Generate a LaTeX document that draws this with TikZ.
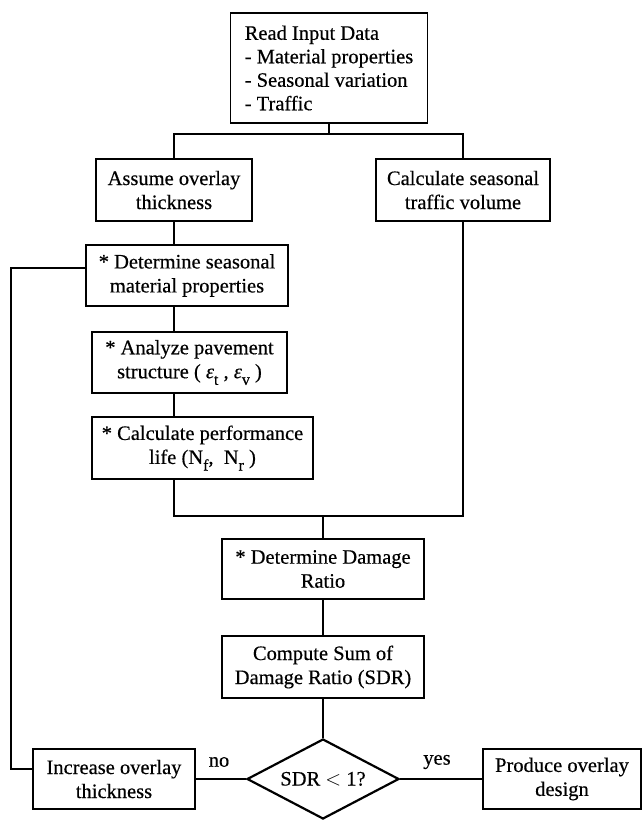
\documentclass[tikz,border=0pt]{standalone}
\usepackage{fontspec}
\setmainfont{Liberation Serif}[FakeBold=0.4]
\usetikzlibrary{shapes.geometric}
\newcommand{\lowsub}[1]{\raisebox{-0.32em}{\fontsize{16}{16}\selectfont #1}}
\begin{document}
\begin{tikzpicture}[x=1pt,y=-1pt,
  box/.style={draw, line width=1.6pt, align=center, inner sep=0pt, font=\fontsize{20.5}{24}\selectfont},
  link/.style={line width=1.6pt},
  lbl/.style={inner sep=0pt, font=\fontsize{20.5}{24}\selectfont}]
\useasboundingbox (0,0) rectangle (642,820);
\fill[white] (0,0) rectangle (642,820);

\node[box, align=left, minimum width=197pt, minimum height=110pt, font=\fontsize{20.5}{23.5}\selectfont] (read) at (329,68)
  {Read Input Data\\- Material properties\\- Seasonal variation\\- Traffic};
\node[box, minimum width=156pt, minimum height=62pt] (assume) at (174,190) {Assume overlay\\thickness};
\node[box, minimum width=174pt, minimum height=62pt] (calc) at (463,190) {Calculate seasonal\\traffic volume};
\node[box, minimum width=202pt, minimum height=61pt] (determine) at (187,275.5) {* Determine seasonal\\material properties};
\node[box, minimum width=195pt, minimum height=61pt] (analyze) at (189.5,362.5)
  {* Analyze pavement\\structure ( \textit{ε}\lowsub{t} , \textit{ε}\lowsub{v} )};
\node[box, minimum width=221pt, minimum height=62pt] (perf) at (202.5,448)
  {* Calculate performance\\life (N\lowsub{f}, \ N\lowsub{r} )};
\node[box, minimum width=202pt, minimum height=60pt] (damage) at (323,569) {* Determine Damage\\Ratio};
\node[box, minimum width=202pt, minimum height=62pt] (compute) at (323,667) {Compute Sum of\\Damage Ratio (SDR)};
\node[box, diamond, line width=2.2pt, minimum width=152pt, minimum height=80pt, aspect=1.9] (dia) at (323,779) {SDR $<$ 1?};
\node[box, minimum width=162pt, minimum height=60pt] (inc) at (114,779) {Increase overlay\\thickness};
\node[box, minimum width=158pt, minimum height=60pt] (prod) at (562,779) {Produce overlay\\design};

\node[lbl] (no) at (219,762) {no};
\node[lbl] (yes) at (437,762) {yes};

\coordinate (j1) at (329,134);
\coordinate (j2) at (323,516);
\coordinate (fb) at (11,769);
\coordinate (fbtop) at (11,268);

\draw[link] (read.south) -- (j1);
\draw[link] (assume.north) -- (assume.north |- j1) -- (calc.north |- j1) -- (calc.north);
\draw[link] (assume.south) -- (assume.south |- determine.north);
\draw[link] (assume.south |- determine.south) -- (assume.south |- analyze.north);
\draw[link] (assume.south |- analyze.south) -- (assume.south |- perf.north);
\draw[link] (assume.south |- perf.south) -- (assume.south |- j2) -- (calc.south |- j2) -- (calc.south);
\draw[link] (j2) -- (damage.north);
\draw[link] (damage.south) -- (compute.north);
\draw[link] (compute.south) -- (dia.north);
\draw[link] (dia.west) -- (inc.east);
\draw[link] (dia.east) -- (prod.west);
\draw[link] (inc.west |- fb) -- (fb) -- (fbtop) -- (fbtop -| determine.west);
\end{tikzpicture}
\end{document}
